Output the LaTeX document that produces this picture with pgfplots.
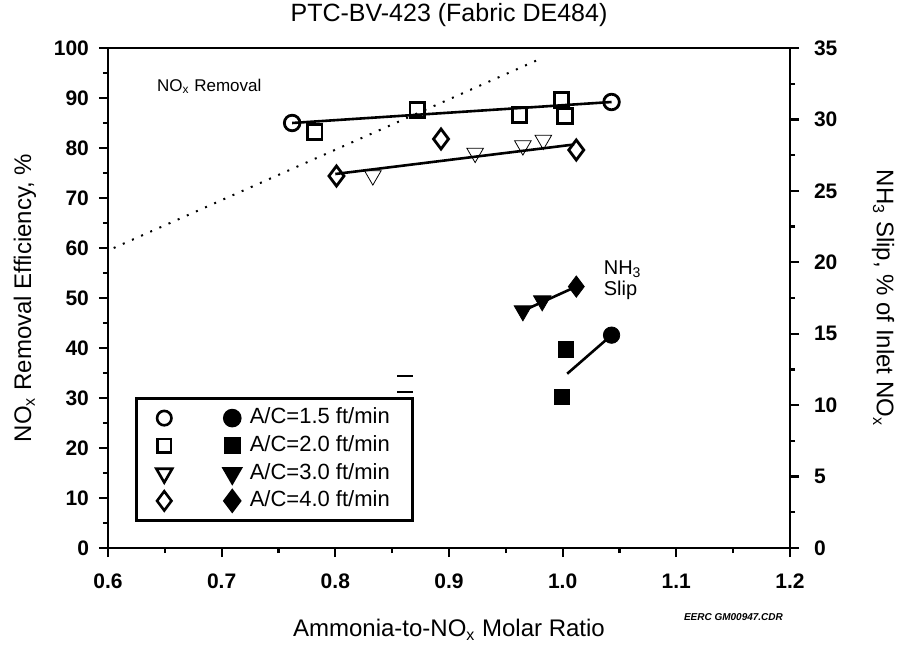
\documentclass[border=0pt]{standalone}
\usepackage{pgfplots}
\pgfplotsset{compat=1.18}
\usepackage{fontspec}
\setmainfont{Liberation Sans}
\begin{document}
\begin{tikzpicture}
\useasboundingbox (-54pt,-48pt) rectangle (396.5pt,274pt);
\pgfplotsset{
  common/.style={
    scale only axis, width=341pt, height=250pt, at={(0pt,0pt)}, anchor=south west,
    xmin=0.6, xmax=1.2,
    tick align=outside,
    major tick length=4.5pt, minor tick length=2.5pt,
    every tick/.style={black, line width=1.1pt},
    axis line style={line width=1.4pt},
    /pgf/number format/assume math mode=true,
    ticklabel style={font=\fontsize{10.5}{12}\selectfont\bfseries},
  },
  openmk/.style={only marks, mark options={line width=1.4pt, solid, fill=white}},
  filledmk/.style={only marks, mark options={solid, fill=black}},
}
% ---------------- left axis: NOx removal ----------------
\begin{axis}[common,
  clip mode=individual,
  ymin=0, ymax=100,
  xtick={0.6,0.7,0.8,0.9,1.0,1.1,1.2},
  ytick={0,10,20,30,40,50,60,70,80,90,100},
  minor x tick num=1, minor y tick num=1,
  xtick pos=bottom, ytick pos=left,
  xticklabel style={yshift=-5pt, /pgf/number format/.cd, fixed, fixed zerofill, precision=1},
  yticklabel style={xshift=-1.5pt},
  title={PTC-BV-423 (Fabric DE484)},
  title style={at={(axis description cs:0.5,1)}, anchor=base, yshift=7.5pt, font=\fontsize{12.5}{14}\selectfont},
  xlabel={Ammonia-to-NO\textsubscript{x} Molar Ratio},
  ylabel={NO\textsubscript{x} Removal Efficiency, \%},
  every axis x label/.style={at={(axis description cs:0.5,0)}, yshift=-41pt, anchor=center, font=\fontsize{12}{13}\selectfont},
  every axis y label/.style={at={(axis description cs:0,0.5)}, xshift=-41.5pt, rotate=90, anchor=center, font=\fontsize{12}{13}\selectfont},
  legend style={at={(axis description cs:0.0396,0.052)}, anchor=south west,
    draw=black, line width=1.3pt, fill=white,
    font=\fontsize{11}{12}\selectfont,
    inner xsep=10pt, inner ysep=3.5pt, row sep=1pt,
    nodes={inner sep=1.5pt, text height=7.8pt, text depth=2pt},
    /tikz/every odd column/.append style={column sep=3pt}},
  legend cell align=left,
]
% dotted reference line
\addplot[black, line width=1pt, dash pattern=on 1pt off 4pt, forget plot] coordinates {(0.605,60.0) (0.978,97.6)};
% fitted lines
\addplot[black, line width=1.3pt, forget plot] coordinates {(0.762,85.0) (1.043,89.2)};
\addplot[black, line width=1.3pt, forget plot] coordinates {(0.800,74.8) (1.010,80.7)};
% open markers
\addplot[openmk, mark=o, mark size=3.9pt, forget plot] coordinates {(0.762,85.0) (1.043,89.2)};
\addplot[openmk, mark=square, mark size=3.6pt, forget plot] coordinates {(0.782,83.2) (0.872,87.6) (0.962,86.6) (0.999,89.6) (1.002,86.4)};
\addplot[openmk, mark=triangle, mark size=4.8pt, mark options={rotate=180}, forget plot] coordinates {(0.833,74.5) (0.923,79.0) (0.965,80.5) (0.983,81.6)};
\addplot[openmk, mark=diamond, mark size=5.0pt, forget plot] coordinates {(0.801,74.4) (0.893,81.8) (1.012,79.6)};
% small stray marks
\addplot[black, only marks, mark=-, mark size=4pt, mark options={line width=1.3pt}, forget plot] coordinates {(0.861,34.4) (0.861,31.2)};
% annotations
\node[anchor=west, font=\fontsize{8.5}{10}\selectfont] at (axis cs:0.637,92.3) {NO\textsubscript{x} Removal};
\node[anchor=west, align=left, font=\fontsize{10}{10.5}\selectfont] at (axis cs:1.03,53.6) {NH\textsubscript{3}\\Slip};
\node[anchor=base east, font=\fontsize{5}{6}\selectfont\itshape\bfseries] at (rel axis cs:1,0) [yshift=-36pt] {EERC GM00947.CDR};
% legend
\addlegendimage{legend image code/.code={
  \path[draw=black, line width=1.3pt] plot[mark=o, mark size=3.6pt] coordinates {(0pt,0pt)};
  \path[draw=black, fill=black] plot[mark=*, mark size=4pt] coordinates {(34pt,0pt)};
}}
\addlegendentry{A/C=1.5 ft/min\hspace{14pt}}
\addlegendimage{legend image code/.code={
  \path[draw=black, line width=1.3pt] plot[mark=square, mark size=3.4pt] coordinates {(0pt,0pt)};
  \path[draw=black, fill=black] plot[mark=square*, mark size=3.7pt] coordinates {(34pt,0pt)};
}}
\addlegendentry{A/C=2.0 ft/min}
\addlegendimage{legend image code/.code={
  \path[draw=black, line width=1.3pt] plot[mark=triangle, mark size=4.6pt, mark options={rotate=180}] coordinates {(0pt,0pt)};
  \path[draw=black, fill=black] plot[mark=triangle*, mark size=4.9pt, mark options={rotate=180}] coordinates {(34pt,0pt)};
}}
\addlegendentry{A/C=3.0 ft/min}
\addlegendimage{legend image code/.code={
  \path[draw=black, line width=1.3pt] plot[mark=diamond, mark size=4.8pt] coordinates {(0pt,0pt)};
  \path[draw=black, fill=black] plot[mark=diamond*, mark size=5.2pt] coordinates {(34pt,0pt)};
}}
\addlegendentry{A/C=4.0 ft/min}
\end{axis}
% ---------------- right axis: NH3 slip ----------------
\begin{axis}[common,
  ymin=0, ymax=35,
  ytick={0,5,10,15,20,25,30,35},
  minor y tick num=1,
  axis y line*=right, axis x line=none,
  yticklabel style={xshift=4pt},
  ylabel={NH\textsubscript{3} Slip, \% of Inlet NO\textsubscript{x}},
  every axis y label/.style={at={(axis description cs:1,0.5)}, xshift=46.5pt, rotate=-90, anchor=center, font=\fontsize{12}{13}\selectfont},
]
\addplot[black, line width=1.3pt] coordinates {(0.965,16.6) (1.012,18.3)};
\addplot[black, line width=1.3pt] coordinates {(1.004,12.2) (1.043,14.9)};
\addplot[filledmk, mark=*, mark size=4.1pt] coordinates {(1.043,14.9)};
\addplot[filledmk, mark=square*, mark size=3.8pt] coordinates {(0.999,10.6) (1.003,13.9)};
\addplot[filledmk, mark=triangle*, mark size=5.0pt, mark options={rotate=180}] coordinates {(0.965,16.6) (0.982,17.3)};
\addplot[filledmk, mark=diamond*, mark size=5.3pt] coordinates {(1.012,18.3)};
\end{axis}
\end{tikzpicture}
\end{document}
